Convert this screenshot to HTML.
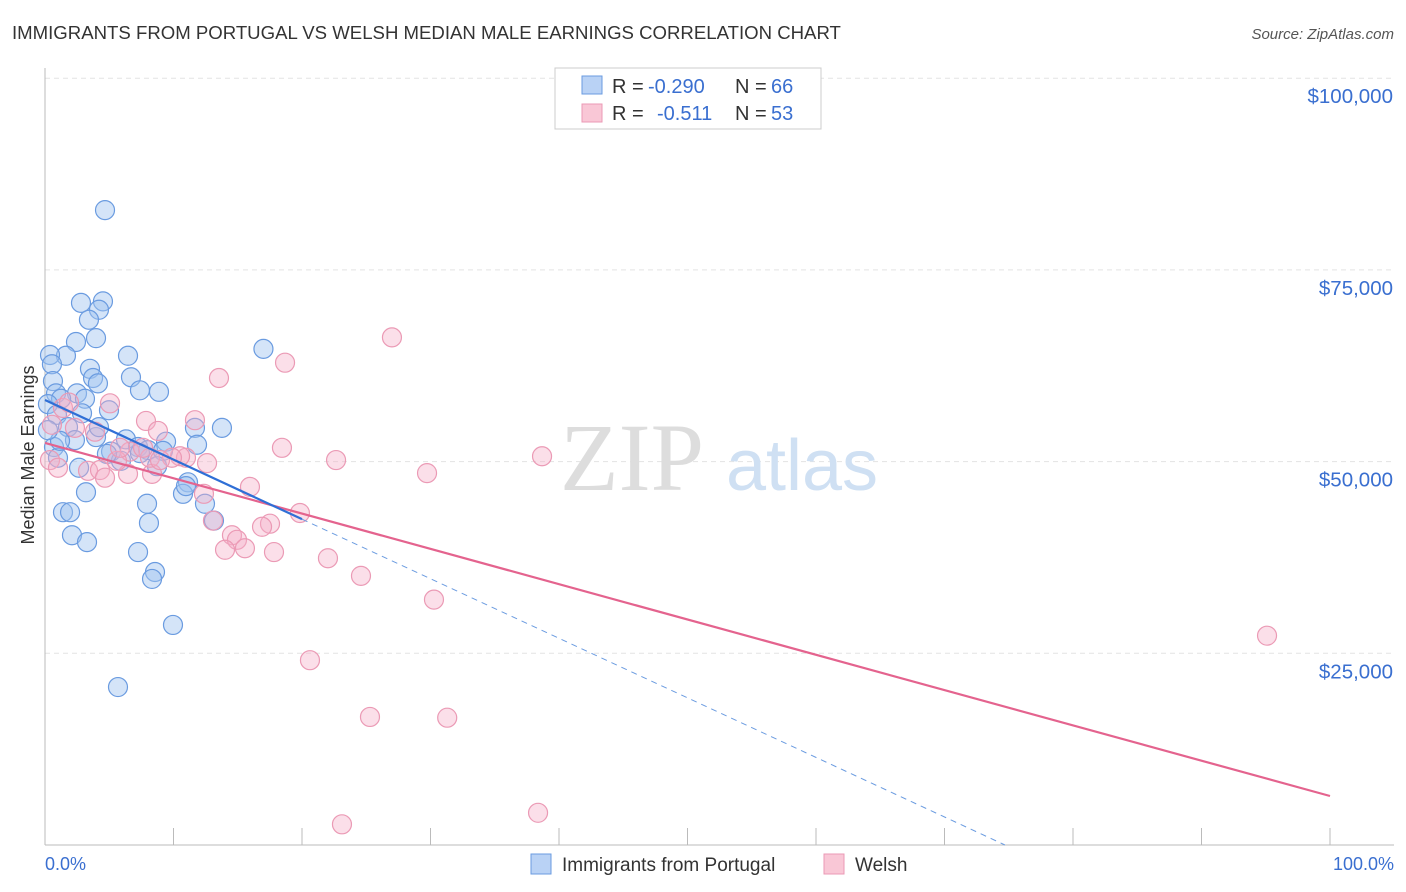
<!DOCTYPE html>
<html><head><meta charset="utf-8"><style>
body{margin:0;background:#fff;font-family:"Liberation Sans",sans-serif;}
svg{display:block}
</style></head><body>
<svg width="1406" height="892" viewBox="0 0 1406 892">
<text x="12" y="39" font-size="18.6" fill="#333">IMMIGRANTS FROM PORTUGAL VS WELSH MEDIAN MALE EARNINGS CORRELATION CHART</text>
<text x="1394" y="39" font-size="15" fill="#555" font-style="italic" text-anchor="end">Source: ZipAtlas.com</text>
<g id="grid"></g>
<g>
<text x="632" y="490" font-size="96" fill="#ddd" font-family="Liberation Serif, serif" text-anchor="middle">ZIP</text>
<text x="802" y="490" font-size="72" fill="#cfe0f3" text-anchor="middle">atlas</text>
</g>
<line x1="45" y1="68" x2="45" y2="845" stroke="#bbb"/>
<line x1="45" y1="845" x2="1394" y2="845" stroke="#bbb"/>
<g id="xticks"></g>
<g id="ylabels"></g>
<text transform="translate(34,455) rotate(-90)" font-size="18" fill="#333" text-anchor="middle">Median Male Earnings</text>
<text x="45" y="870" font-size="18" fill="#3a6fd0">0.0%</text>
<text x="1394" y="870" font-size="18" fill="#3a6fd0" text-anchor="end">100.0%</text>
<g id="pts"></g>
<g id="trends"></g>
<g font-size="20">
<rect x="555" y="68" width="266" height="61" fill="#fff" stroke="#ccc"/>
<rect x="582" y="76" width="20" height="18" fill="#b9d2f5" stroke="#6a9be0"/>
<text x="612" y="93" fill="#333">R =</text>
<text x="648" y="93" fill="#3a6fd0">-0.290</text>
<text x="735" y="93" fill="#333">N =</text>
<text x="771" y="93" fill="#3a6fd0">66</text>
<rect x="582" y="104" width="20" height="18" fill="#f9c7d6" stroke="#eb9ab5"/>
<text x="612" y="120" fill="#333">R =</text>
<text x="657" y="120" fill="#3a6fd0">-0.511</text>
<text x="735" y="120" fill="#333">N =</text>
<text x="771" y="120" fill="#3a6fd0">53</text>
</g>
<g>
<rect x="531" y="854" width="20" height="20" fill="#b9d2f5" stroke="#6a9be0"/>
<text x="562" y="871" font-size="19" fill="#333">Immigrants from Portugal</text>
<rect x="824" y="854" width="20" height="20" fill="#f9c7d6" stroke="#eb9ab5"/>
<text x="855" y="871" font-size="19" fill="#333">Welsh</text>
</g>
</svg>
<script>
const yTicks=[25000,50000,75000,100000];
const yTickLabels=["$25,000","$50,000","$75,000","$100,000"];
const xTicks=[0,10,20,30,40,50,60,70,80,90,100];
const bluePct=[4.67,2.80,4.51,4.20,3.42,2.41,3.97,17.0,6.46,1.63,0.39,0.54,3.50,6.69,3.74,4.12,0.62,7.39,8.87,0.86,2.49,1.25,3.11,0.23,4.98,2.88,0.93,11.67,13.77,1.79,9.42,6.30,3.97,2.33,0.70,5.14,7.24,8.02,9.18,1.01,11.83,5.91,8.72,2.65,7.39,11.13,3.19,10.74,7.94,12.45,1.40,1.95,8.09,13.15,2.10,3.27,7.24,8.56,8.33,9.96,5.68,10.97,1.17,0.23,4.20,4.82];
const blueVal=[82.8,70.7,70.9,69.8,68.5,65.6,66.1,64.7,63.8,63.8,63.9,62.7,62.1,61.0,60.9,60.2,60.5,59.3,59.1,58.9,58.9,58.2,58.2,57.5,56.7,56.3,56.1,54.4,54.4,54.5,52.6,52.9,53.2,52.8,51.9,51.3,51.9,51.5,51.4,50.5,52.2,50.1,49.4,49.2,51.1,47.3,46.0,45.8,44.5,44.5,43.4,43.4,42.0,42.3,40.4,39.5,38.2,35.6,34.7,28.7,20.6,46.8,52.7,54.1,54.5,51.0];
const pinkPct=[27.0,18.68,13.54,5.06,7.86,11.67,8.79,1.40,0.54,0.39,18.44,22.65,29.73,38.68,3.35,4.28,6.46,8.33,12.61,10.97,10.51,9.88,6.61,5.60,15.95,12.37,19.84,17.51,16.89,13.07,14.55,14.94,15.56,14.01,17.82,22.02,24.59,30.27,95.1,20.62,25.29,31.3,23.11,38.37,2.33,3.89,8.17,7.63,1.87,8.95,5.84,4.67,1.01];
const pinkVal=[66.2,62.9,60.9,57.6,55.3,55.4,54.0,57.0,54.8,50.2,51.8,50.2,48.5,50.7,48.8,48.9,48.4,48.4,49.8,50.5,50.7,50.5,51.3,50.1,46.7,45.8,43.3,41.9,41.5,42.3,40.4,39.8,38.7,38.5,38.2,37.4,35.1,32.0,27.3,24.1,16.7,16.6,2.7,4.2,54.4,53.9,50.5,51.8,57.7,50.2,51.8,47.9,49.2];
const blueTrend=[58030,-19650];
const pinkTrend=[52430,6390];
const NS="http://www.w3.org/2000/svg";
const X=p=>45+p*12.85;
const Y=v=>845-v*0.007668;
function mk(t,a,parent){const e=document.createElementNS(NS,t);for(const k in a)e.setAttribute(k,a[k]);parent.appendChild(e);return e;}
const grid=document.getElementById('grid'),yl=document.getElementById('ylabels'),xt=document.getElementById('xticks');
yTicks.forEach((v,i)=>{
 const l=mk('line',{x1:45,x2:1394,y1:Y(v),y2:Y(v),stroke:'#e3e3e3','stroke-dasharray':'5,4'},grid);
 
 
 const t=mk('text',{x:1393,y:Y(v)+25,'font-size':20.5,fill:'#3a6fd0','text-anchor':'end'},yl);
 t.textContent=yTickLabels[i];
 
 
});
xTicks.forEach(p=>{
 const l=mk('line',{x1:X(p),x2:X(p),y1:828,y2:845,stroke:'#bbb'},xt);
 
 
});
const pts=document.getElementById('pts');
bluePct.forEach((p,i)=>{
 const c=mk('circle',{cx:X(p),cy:Y(blueVal[i]*1000),r:9.5,fill:'rgba(160,195,240,0.45)',stroke:'#6a9be0','stroke-width':1.2},pts);
 
 
});
pinkPct.forEach((p,i)=>{
 const c=mk('circle',{cx:X(p),cy:Y(pinkVal[i]*1000),r:9.5,fill:'rgba(245,175,200,0.4)',stroke:'#eb9ab5','stroke-width':1.2},pts);
 
 
});
const tr=document.getElementById('trends');
const bAt=p=>blueTrend[0]+(blueTrend[1]-blueTrend[0])*p/100;
const pAt=p=>pinkTrend[0]+(pinkTrend[1]-pinkTrend[0])*p/100;
const pl=mk('line',{x1:X(0),y1:Y(pAt(0)),x2:X(100),y2:Y(pAt(100)),stroke:'#e4638e','stroke-width':2.2},tr);


const b1=mk('line',{x1:X(0),y1:Y(bAt(0)),x2:X(20),y2:Y(bAt(20)),stroke:'#2f6fd6','stroke-width':2.2},tr);


const pz=(blueTrend[0]/(blueTrend[0]-blueTrend[1]))*100;
const b2=mk('line',{x1:X(20),y1:Y(bAt(20)),x2:X(pz),y2:Y(0),stroke:'#6a9be0','stroke-width':1,'stroke-dasharray':'6,5'},tr);


</script>
</body></html>
